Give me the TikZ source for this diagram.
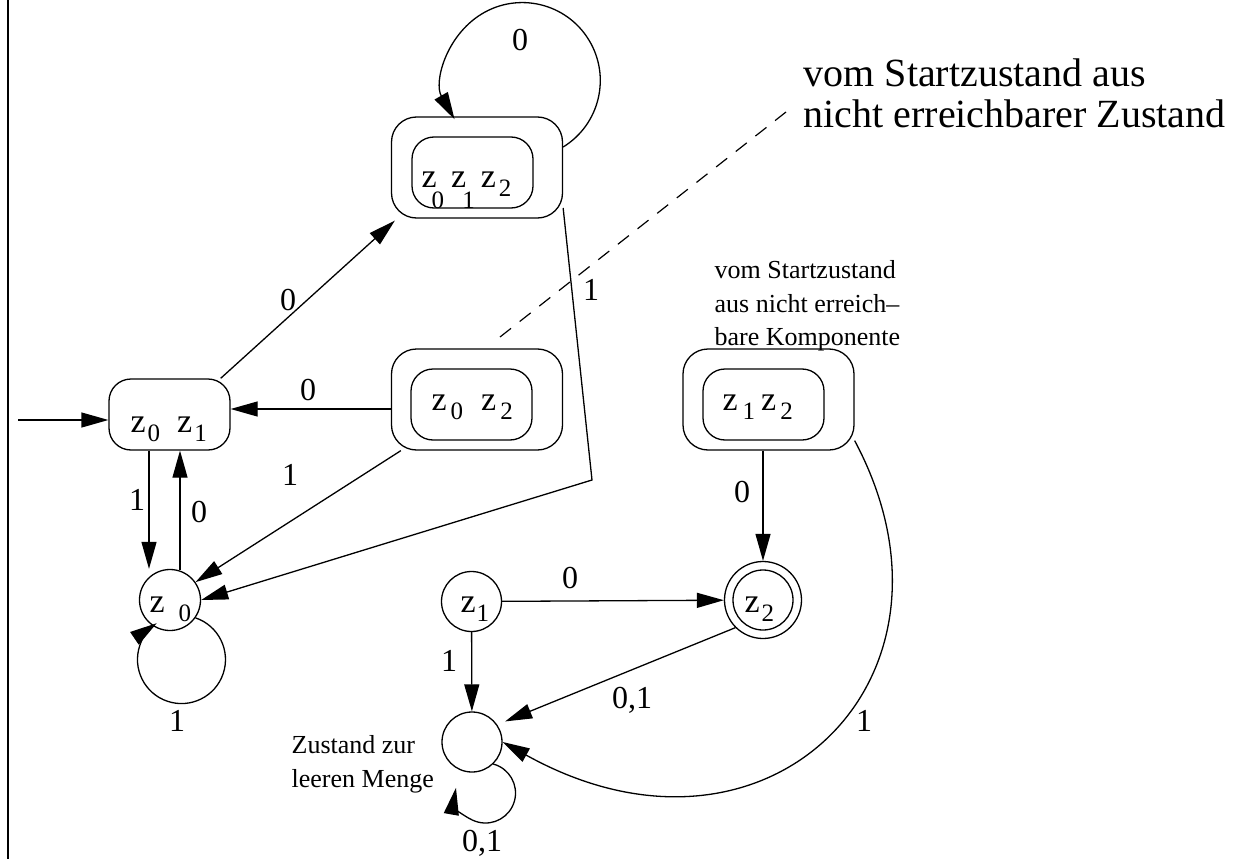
\documentclass[tikz,border=0pt]{standalone}
\usepackage{fontspec}
\setmainfont{Liberation Serif}
\usetikzlibrary{arrows.meta,calc}
\newcommand{\zsub}[2][-9pt]{\raisebox{#1}{\fontsize{25pt}{25pt}\selectfont #2}}
\begin{document}
\begin{tikzpicture}[x=1pt,y=-1pt,line width=1.3pt,
  arr/.style={-{Triangle[length=27pt,width=15pt]}},
  outerbox/.style={draw,rounded corners=25pt,minimum width=171pt,minimum height=101pt,inner sep=0pt},
  innerbox/.style={draw,rounded corners=22pt,minimum width=121pt,minimum height=71pt,inner sep=0pt},
  startbox/.style={draw,rounded corners=22pt,minimum width=121pt,minimum height=71pt,inner sep=0pt},
  state/.style={draw,circle,minimum size=61pt,inner sep=0pt},
  lbl/.style={inner sep=0pt,font=\fontsize{32pt}{38pt}\selectfont},
  stxt/.style={anchor=base west,inner sep=0pt,font=\fontsize{34pt}{40pt}\selectfont},
  note/.style={anchor=base west,inner sep=0pt,font=\fontsize{26pt}{32pt}\selectfont},
  bignote/.style={anchor=base west,inner sep=0pt,font=\fontsize{40pt}{46pt}\selectfont}]
\useasboundingbox (0,0) rectangle (1243,859);
\draw[line width=2pt] (8,0) -- (8,859);

% states
\node[startbox] (A) at (169.5,414.5) {};
\node[outerbox] (Bo) at (477,167.5) {};
\node[innerbox] (Bi) at (472.5,172.5) {};
\node[outerbox] (Co) at (477,399.5) {};
\node[innerbox] (Ci) at (471.5,404.5) {};
\node[outerbox] (Do) at (768.5,399.5) {};
\node[innerbox] (Di) at (763.5,404.5) {};
\node[state] (E) at (170,600) {};
\node[state,minimum size=60pt] (F) at (471.5,601.5) {};
\node[state,minimum size=77pt] (G) at (763,600) {};
\node[state,minimum size=60pt] (Gi) at (763,600) {};
\node[state,minimum size=60pt] (H) at (472,742) {};

% state texts
\node[stxt] (tA) at (130,432) {z\kern2pt\zsub{0}\kern17pt z\kern2pt\zsub{1}};
\node[stxt] (tB) at (421,187) {z\kern-5pt\zsub[-21pt]{0}\kern7pt z\kern-4pt\zsub[-21pt]{1}\kern6pt z\kern3pt\zsub{2}};
\node[stxt] (tC) at (431,410) {z\kern4pt\zsub{0}\kern18pt z\kern4pt\zsub{2}};
\node[stxt] (tD) at (722,410) {z\kern5pt\zsub{1}\kern6pt z\kern4pt\zsub{2}};
\node[stxt] (tE) at (149,612) {z\kern14pt\zsub{0}};
\node[stxt] (tF) at (460,612) {z\kern1pt\zsub{1}};
\node[stxt] (tG) at (744,612) {z\kern2pt\zsub{2}};

% start arrow
\coordinate (st) at (18,420);
\draw[arr] (st) -- (st -| A.west);

% edges
\draw[arr] ($(A.north east)+(-10,0)$) -- ($(Bo.south west)+(4,2)$);
\draw[arr] ($(Bo.east)+(0,-20.5)$) arc[start angle=58.4,end angle=-209.7,radius=78];
\coordinate (k1) at (592,480);
\draw[arr] ($(Bo.east)+(0,40.5)$) -- (k1) -- (E.east);
\coordinate (c1) at ($(Co.west)+(0,9.5)$);
\draw[arr] (c1) -- (c1 -| A.east);
\draw[arr] ($(Co.south west)+(10,0)$) -- (E.35);
\coordinate (a1) at ($(A.south)+(-20.5,0)$);
\draw[arr] (a1) -- (a1 |- E.north);
\coordinate (e1) at ($(E.north)+(10,1)$);
\draw[arr] (e1) -- (e1 |- A.south);
\draw[arr] (E.-35) arc[start angle=-71.4,end angle=235.8,radius=44];
\draw[arr] (F) -- (G);
\draw[arr] (F) -- (H);
\draw[arr] (G.225) -- ($(H.35)+(8,-3)$);
\coordinate (d1) at ($(Do.south)+(-5.5,0)$);
\draw[arr] (d1) -- (G.north);
\draw[arr] ($(Do.south east)+(0,-10)$) .. controls +(127,238) and +(264,147) .. (H.east);
\draw[arr] (H.-46) arc[start angle=-75,end angle=190,radius=30];

% dashed pointer
\coordinate (dA) at (500,337);
\coordinate (dB) at (786,112);
\draw[line width=1.2pt,dash pattern=on 14pt off 11pt] (dA) -- (dB);

% edge labels
\node[lbl] (l1) at (288,300) {0};
\node[lbl] (l2) at (520,40) {0};
\node[lbl] (l3) at (591,290) {1};
\node[lbl] (l4) at (308,390) {0};
\node[lbl] (l5) at (290,475) {1};
\node[lbl] (l6) at (137,500) {1};
\node[lbl] (l7) at (199,512) {0};
\node[lbl] (l8) at (177,721) {1};
\node[lbl] (l9) at (570,578) {0};
\node[lbl] (l10) at (449,661) {1};
\node[lbl] (l11) at (632,700) {0,1};
\node[lbl] (l12) at (742,492) {0};
\node[lbl] (l13) at (864,721) {1};
\node[lbl] (l14) at (482,843) {0,1};

% notes
\node[bignote] (n1) at (803,87) {vom Startzustand aus};
\node[bignote] (n2) at (803,127) {nicht erreichbarer Zustand};
\node[note] (n3) at (714,278) {vom Startzustand};
\node[note] (n4) at (714,312) {aus nicht erreich–};
\node[note] (n5) at (714,345) {bare Komponente};
\node[note] (n6) at (291,753) {Zustand zur};
\node[note] (n7) at (291,787) {leeren Menge};
\end{tikzpicture}
\end{document}
